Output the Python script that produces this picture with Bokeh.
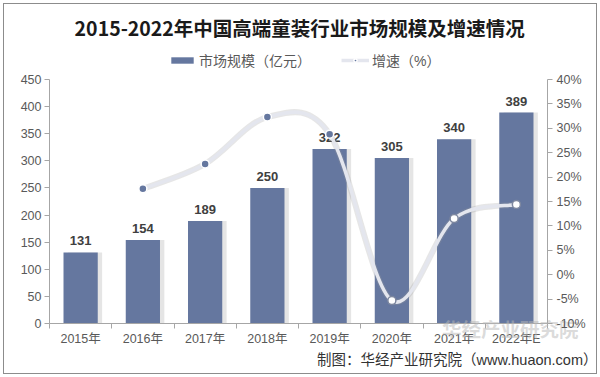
from bokeh.plotting import figure
from bokeh.models import (Range1d, LinearAxis, FixedTicker, Legend, LegendItem,
                          ColumnDataSource, Title, Label)
from bokeh.core.properties import value
from bokeh.embed import file_html
from bokeh.resources import INLINE

# ---- data ----
years = ["2015年", "2016年", "2017年", "2018年", "2019年", "2020年", "2021年", "2022年E"]
market_size = [131, 154, 189, 250, 322, 305, 340, 389]          # 亿元
growth_years = ["2016年", "2017年", "2018年", "2019年", "2020年", "2021年", "2022年E"]
growth_rate = [17.6, 22.7, 32.3, 28.8, -5.3, 11.5, 14.4]          # %
left_ticks = [0, 50, 100, 150, 200, 250, 300, 350, 400, 450]
right_ticks = [-10, -5, 0, 5, 10, 15, 20, 25, 30, 35, 40]

TITLE = "2015-2022年中国高端童装行业市场规模及增速情况"
SOURCE = "制图：华经产业研究院（www.huaon.com）"
WATERMARK = "华经产业研究院"

BAR = "#65779F"
LINE = "#E4E6EE"
AX = "#A6A6A6"
TXT = "#595959"
CJK = "Liberation Sans, Noto Sans CJK SC"

# layout: the plotting frame also covers the title/legend strip above the axes
FRAME_W, FRAME_H, AXIS_H = 498, 319, 244
L_MAX, R_MIN, R_MAX = 450, -10, 40
L_TOP = L_MAX * FRAME_H / AXIS_H
R_TOP = R_MIN + (R_MAX - R_MIN) * FRAME_H / AXIS_H

xs = list(range(len(years)))
gx = [years.index(y) for y in growth_years]

p = figure(frame_width=FRAME_W, frame_height=FRAME_H, output_backend="svg",
           toolbar_location=None, x_range=Range1d(-0.5, 7.5), y_range=Range1d(0, L_TOP),
           min_border_left=49, min_border_right=53, min_border_top=4, min_border_bottom=54,
           title=None)
p.styles = {"box-shadow": "inset 0 0 0 3px #FFFFFF, inset 0 0 0 4px #8C8C8C"}
p.extra_y_ranges = {"pct": Range1d(R_MIN, R_TOP)}
p.outline_line_color = None
p.xgrid.visible = False
p.ygrid.visible = False
p.background_fill_color = "white"
p.border_fill_alpha = 0

# axes
p.xaxis.ticker = FixedTicker(ticks=xs, minor_ticks=[i - 0.5 for i in range(len(years) + 1)])
p.xaxis.major_label_overrides = {i: years[i] for i in xs}
p.xaxis.major_tick_in = 0
p.xaxis.major_tick_out = 0
p.xaxis.minor_tick_in = 0
p.xaxis.minor_tick_out = 5
p.xaxis.minor_tick_line_color = AX
p.xaxis.axis_line_color = AX
p.xaxis.major_label_standoff = 3
p.xaxis.major_label_text_font = CJK
p.xaxis.major_label_text_font_size = "12.5px"
p.xaxis.major_label_text_color = TXT

p.yaxis.ticker = FixedTicker(ticks=left_ticks, minor_ticks=[])
p.yaxis.bounds = (0, L_MAX)
p.yaxis.major_tick_in = 0
p.yaxis.major_tick_out = 5
p.yaxis.major_tick_line_color = AX
p.yaxis.axis_line_color = AX
p.yaxis.major_label_standoff = 3
p.yaxis.major_label_text_font = "Liberation Sans"
p.yaxis.major_label_text_font_size = "12.5px"
p.yaxis.major_label_text_color = TXT

ra = LinearAxis(y_range_name="pct", ticker=FixedTicker(ticks=right_ticks, minor_ticks=[]),
                bounds=(R_MIN, R_MAX))
ra.major_label_overrides = {t: f"{t}%" for t in right_ticks}
ra.major_tick_in = 0
ra.major_tick_out = 5
ra.major_tick_line_color = AX
ra.axis_line_color = AX
ra.major_label_standoff = 4
ra.major_label_text_font = "Liberation Sans"
ra.major_label_text_font_size = "12.5px"
ra.major_label_text_color = TXT
p.add_layout(ra, "right")

# watermark: an unlined helper axis whose single label overlaps the year labels
wm = LinearAxis(ticker=FixedTicker(ticks=[6.9], minor_ticks=[]),
                major_label_overrides={6.9: WATERMARK})
wm.axis_line_color = None
wm.major_tick_line_color = None
wm.minor_tick_line_color = None
wm.major_tick_in = 0
wm.major_tick_out = 0
wm.minor_tick_in = 0
wm.minor_tick_out = 0
wm.major_label_standoff = -35
wm.major_label_text_font = "Noto Sans CJK SC"
wm.major_label_text_font_style = "bold"
wm.major_label_text_font_size = "19.5px"
wm.major_label_text_color = "#B8B8B8"
wm.major_label_text_alpha = 0.5
p.add_layout(wm, "below")

# bars with soft shadow
p.vbar(x=[x + 0.07 for x in xs], top=market_size, width=0.55, fill_color="#a0a0a0",
       fill_alpha=0.28, line_color=None)
bars = p.vbar(x=xs, top=market_size, width=0.55, fill_color=BAR, line_color=None)

# data labels
src = ColumnDataSource(dict(x=xs, y=market_size, t=[str(v) for v in market_size]))
p.text(x="x", y="y", text="t", source=src, y_offset=-7, text_align="center",
       text_baseline="bottom", text_font=value("Liberation Sans"), text_font_style="bold",
       text_font_size="13px", text_color="#404040")

# smoothed growth line (cubic bezier, Catmull-Rom control points)
n = len(gx)
x0, y0, x1, y1, cx0, cy0, cx1, cy1 = ([] for _ in range(8))
for i in range(n - 1):
    pm = max(i - 1, 0)
    pn = min(i + 2, n - 1)
    x0.append(gx[i]); y0.append(growth_rate[i])
    x1.append(gx[i + 1]); y1.append(growth_rate[i + 1])
    cx0.append(gx[i] + (gx[i + 1] - gx[pm]) / 6)
    cy0.append(growth_rate[i] + (growth_rate[i + 1] - growth_rate[pm]) / 6)
    cx1.append(gx[i + 1] - (gx[pn] - gx[i]) / 6)
    cy1.append(growth_rate[i + 1] - (growth_rate[pn] - growth_rate[i]) / 6)
bz = ColumnDataSource(dict(x0=x0, y0=y0, x1=x1, y1=y1, cx0=cx0, cy0=cy0, cx1=cx1, cy1=cy1))
p.bezier(x0="x0", y0="y0", x1="x1", y1="y1", cx0="cx0", cy0="cy0", cx1="cx1", cy1="cy1",
         source=bz, y_range_name="pct", line_color="#9a9a9a", line_alpha=0.25, line_width=6)
curve = p.bezier(x0="x0", y0="y0", x1="x1", y1="y1", cx0="cx0", cy0="cy0", cx1="cx1",
                 cy1="cy1", source=bz, y_range_name="pct", line_color=LINE, line_width=3.5)

# markers: white when they sit over a bar, blue otherwise
inside = [(g - R_MIN) / (R_MAX - R_MIN) < market_size[x] / L_MAX for x, g in zip(gx, growth_rate)]
msrc = ColumnDataSource(dict(x=gx, y=growth_rate,
                             f=["white" if b else BAR for b in inside],
                             l=["#7d879f" if b else "white" for b in inside]))
dots = p.scatter(x="x", y="y", source=msrc, y_range_name="pct", size=8, fill_color="f",
                 line_color="l", line_width=1.5)

# legend (in the strip above the axes)
legend = Legend(items=[LegendItem(label="市场规模（亿元）", renderers=[bars], index=0),
                       LegendItem(label="增速（%）", renderers=[curve, dots], index=0)],
                orientation="horizontal", location=(119, 253), glyph_width=28, glyph_height=8,
                label_text_font=CJK, label_text_font_size="14px", label_text_color=TXT,
                label_height=16, spacing=30, padding=0, margin=0, label_standoff=3,
                background_fill_alpha=0, border_line_color=None)
p.add_layout(legend)

# title (in the strip above the axes)
p.add_layout(Label(x=3.52, y=L_MAX * (323 - 27) / AXIS_H, text=TITLE, text_align="center",
                   text_baseline="middle", text_font="Noto Sans CJK SC",
                   text_font_style="bold", text_font_size="19.5px", text_color="#1a1a1a"))

# source below the axis
p.add_layout(Title(text=SOURCE, align="right", text_font=CJK, text_font_style="normal",
                   text_font_size="14.5px", text_color="#333333", standoff=3, offset=-50),
             "below")

open("out.html", "w").write(file_html(p, INLINE))
